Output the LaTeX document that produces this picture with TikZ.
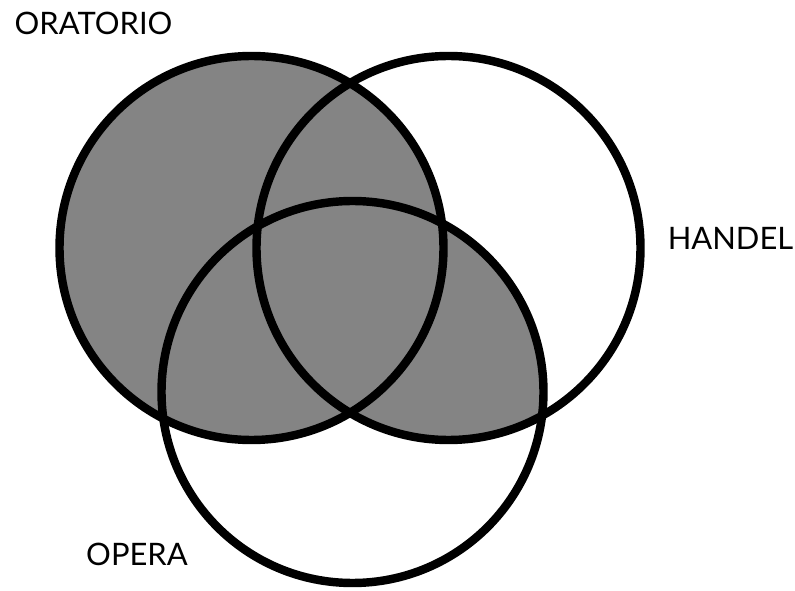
\documentclass[tikz,border=0pt]{standalone}
\usepackage{fontspec}
\setmainfont{Lato}
\usetikzlibrary{positioning}
\definecolor{grisTrama}{RGB}{132,132,132}

\begin{document}
\begin{tikzpicture}[
            conjunto/.style={draw=black, line width=4.8pt},
            sombra/.style={fill=grisTrama},
            etiqueta/.style={font=\fontsize{17.6}{19}\selectfont, inner sep=0pt}]

            \useasboundingbox (0,0) rectangle (15.9,11.8);

            \coordinate (orat) at (5.03,6.84);
            \coordinate (hand) at (8.97,6.84);
            \coordinate (oper) at (7.05,3.96);

            % zonas sombreadas
            \fill[sombra] (orat) circle (3.84);
            \begin{scope}
                \clip (hand) circle (3.84);
                \fill[sombra] (oper) circle (3.82);
            \end{scope}

            \draw[conjunto] (orat) circle (3.84);
            \draw[conjunto] (hand) circle (3.84);
            \draw[conjunto] (oper) circle (3.82);

            \node[etiqueta] (rotOrat) at (1.87,11.34) {ORATORIO};
            \node[etiqueta] (rotHand) at (14.61,7.04) {HANDEL};
            \node[etiqueta] (rotOper) at (2.74,0.72) {OPERA};
        \end{tikzpicture}
\end{document}
